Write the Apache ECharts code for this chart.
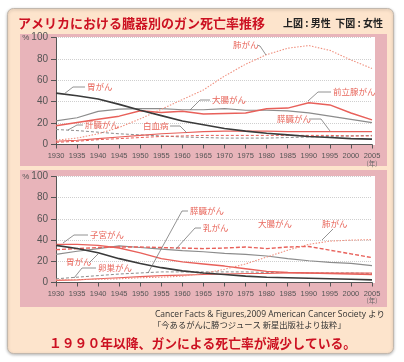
<!DOCTYPE html>
<html><head><meta charset="utf-8">
<script src="https://cdn.jsdelivr.net/npm/echarts@6/dist/echarts.min.js"></script>
<style>html,body{margin:0;padding:0;background:#fff}#c{width:404px;height:362px}</style>
</head><body><div id="c"></div>
<script>
// ---- data (deaths per 100,000) ----
const years = [1930,1935,1940,1945,1950,1955,1960,1965,1970,1975,1980,1985,1990,1995,2000,2005];
const xTicks = [1930,1935,1940,1945,1950,1955,1960,1965,1970,1975,1980,1985,1990,1995,2000,2005];
const yTicks = [0,20,40,60,80,100];
// men (top)
const mStomach   = [48,45.5,42.5,37.5,32,27,22,18.5,15,12.5,10.5,9,7.5,6.5,5.5,5];
const mLung      = [4,6,10,16,24,33,42,51,64,75,84,90,92.5,88,79,71];
const mColorectal= [22,25,31,33,33.5,33.5,32.5,32.5,33.5,32,32,31.5,29.5,26.5,23.5,20.5];
const mProstate  = [17.5,20.5,23.5,26.5,31.5,30,31,28.5,29,29.5,33.5,34,39,37,29.5,23];
const mPancreas  = [3,4,5.5,7,8.5,10,11,12,12.5,12.5,12.5,12,12,12,12,12];
const mLeukemia  = [2,3,4.5,5.5,6.5,7.5,8,8.5,8.5,8.5,8.5,8.5,8.5,8.5,8,8];
const mLiver     = [14,13,11.5,10,9,8,7,6.5,6,6,6,6.5,7,7.5,8,8.5];
// women (bottom)
const fStomach   = [35,32,28,22.5,18,14,11,9,7.5,6,5,4.5,4,3.5,3,2.5];
const fUterine   = [36,36,35,32.5,28,22.5,19.5,17.5,15.5,13,10.5,9.5,9,8.5,8,7.5];
const fColorectal= [26.5,29.5,32,34.5,33,31.5,30,29,27.5,26.5,25,22.5,20.5,19,18,16];
const fBreast    = [31,32,33,33.5,33.5,33,32.5,32,32.5,33.5,32,33.5,34,30.5,27,23.5];
const fLung      = [2.5,2.7,3,3.5,4.5,5,6,8.5,12.5,17.5,24,30.5,36,39,40,40.5];
const fOvary     = [3.5,5,6.5,8,9,10,10,10,10,10,9.5,9.5,9,9,9,8.5];
const fPancreas  = [2,2.5,3.5,4.5,5.5,6.5,7,7.5,8,8.5,8.5,9,9,9,9,9];

const pair = v => years.map((y,i)=>[y,v[i]]);
const C_BLACK='#3a3a3a', C_GRAY='#8c8c8c', C_RED='#e8605a', C_LRED='#f0907f';
function line(name, v, idx, color, width, type){
  return {name, type:'line', xAxisIndex:idx, yAxisIndex:idx, data:pair(v), showSymbol:false,
    symbol:'none', lineStyle:{color, width, type:type||'solid'}, silent:true, z:5};
}
const FONT = '"Noto Sans CJK JP","Noto Sans",sans-serif';
function xAxis(idx){
  return {type:'value', gridIndex:idx, min:1930, max:2005, interval:5,
    axisLine:{show:true, lineStyle:{color:'#555', width:1}},
    axisTick:{show:true, length:4, lineStyle:{color:'#555'}},
    axisLabel:{color:'#555', fontSize:7.5, fontFamily:'"Liberation Sans",sans-serif', margin:7,
      formatter:v=>xTicks.includes(v)?String(v):''},
    splitLine:{show:false}};
}
function yAxis(idx){
  return {type:'value', gridIndex:idx, min:0, max:100, interval:20,
    axisLine:{show:true, lineStyle:{color:'#555', width:1}},
    axisTick:{show:true, length:5, lineStyle:{color:'#555'}},
    axisLabel:{color:'#555', fontSize:10, fontFamily:'"Liberation Sans",sans-serif', margin:8,
      formatter:v=>yTicks.includes(v)?(v===100?'{p|%}'+v:String(v)):'',
      rich:{p:{fontSize:8,color:'#555',padding:[0,2,0,0]}}},
    splitLine:{show:true, lineStyle:{color:'#cfcfcf', type:'dotted', width:1}}};
}
function lbl(x,y,text){return {type:'text', x, y, z:20, style:{text, fill:'#e8675c', font:'8.5px '+FONT, textVerticalAlign:'middle'}};}
function ldr(points){return {type:'polyline', z:19, shape:{points}, style:{stroke:'#777', lineWidth:0.8, fill:null}};}

const chart = echarts.init(document.getElementById('c'), null, {renderer:'canvas'});
chart.setOption({
  animation:false,
  backgroundColor:'#ffffff',
  grid:[{left:56, top:37.5, width:316, height:107},{left:56, top:176.5, width:316, height:106}],
  xAxis:[xAxis(0), xAxis(1)],
  yAxis:[yAxis(0), yAxis(1)],
  series:[
    line('肝臓がん', mLiver, 0, C_GRAY, 1, [3,2]),
    line('白血病', mLeukemia, 0, C_RED, 1, [3,2]),
    line('膵臓がん', mPancreas, 0, C_RED, 1.1),
    line('大腸がん', mColorectal, 0, C_GRAY, 1.2),
    line('前立腺がん', mProstate, 0, C_RED, 1.5),
    line('肺がん', mLung, 0, C_LRED, 1.1, [1.5,1.5]),
    line('胃がん', mStomach, 0, C_BLACK, 1.6),
    line('卵巣がん', fOvary, 1, C_GRAY, 1, [3,2]),
    line('膵臓がん', fPancreas, 1, C_RED, 1.1),
    line('大腸がん', fColorectal, 1, C_GRAY, 1.2),
    line('乳がん', fBreast, 1, C_RED, 1.4, [4,2]),
    line('子宮がん', fUterine, 1, C_RED, 1.4),
    line('肺がん', fLung, 1, C_LRED, 1.1, [1.5,1.5]),
    line('胃がん', fStomach, 1, C_BLACK, 1.6)
  ],
  graphic:[
    {type:'rect', z:-10, shape:{x:7.5,y:8.5,width:386,height:345,r:6}, style:{fill:'#fde4cc', stroke:'#c2b8ae', lineWidth:1, shadowBlur:3, shadowColor:'rgba(0,0,0,0.25)', shadowOffsetY:1}},
    {type:'rect', z:-9, shape:{x:20,y:34,width:367,height:132}, style:{fill:'#e8b4ba'}},
    {type:'rect', z:-9, shape:{x:20,y:170,width:367,height:137}, style:{fill:'#e8b4ba'}},
    {type:'rect', z:-8, shape:{x:56,y:37,width:319,height:108}, style:{fill:'#ffffff'}},
    {type:'rect', z:-8, shape:{x:56,y:176,width:319,height:107}, style:{fill:'#ffffff'}},
    {type:'text', x:18, y:23, z:20, style:{text:'アメリカにおける臓器別のガン死亡率推移', fill:'#cc1122', font:'bold 13px '+FONT, textVerticalAlign:'middle'}},
    {type:'text', x:283, y:23, z:20, style:{text:'上図 : 男性  下図 : 女性', fill:'#222', font:'bold 10px '+FONT, textVerticalAlign:'middle'}},
    {type:'text', x:372, y:164, z:20, style:{text:'(年)', fill:'#666', font:'6.5px '+FONT, textAlign:'center', textVerticalAlign:'middle'}},
    {type:'text', x:372, y:301, z:20, style:{text:'(年)', fill:'#666', font:'6.5px '+FONT, textAlign:'center', textVerticalAlign:'middle'}},
    {type:'text', x:155, y:315, z:20, style:{text:'Cancer Facts & Figures,2009 American Cancer Society より', fill:'#333', font:'8.5px "Open Sans","Noto Sans CJK JP",sans-serif', textVerticalAlign:'middle'}},
    {type:'text', x:153, y:325, z:20, style:{text:'「今あるがんに勝つジュース 新星出版社より抜粋」', fill:'#333', font:'8.3px '+FONT, textVerticalAlign:'middle'}},
    {type:'text', x:49, y:343, z:20, style:{text:'１９９０年以降、ガンによる死亡率が減少している。', fill:'#cc1122', font:'bold 12.8px '+FONT, textVerticalAlign:'middle'}},
    // top annotations
    lbl(87,87,'胃がん'), ldr([[85,87],[73,87],[64,94]]),
    lbl(85,125,'肝臓がん'), ldr([[83,125],[77,125],[68,130]]),
    lbl(143,126,'白血病'), ldr([[170,126],[180,126],[187,133]]),
    lbl(233,45,'肺がん'), ldr([[257,45],[260,46],[266,55]]),
    lbl(212,100,'大腸がん'), ldr([[210,100],[200,100],[190,110]]),
    lbl(333,92,'前立腺がん'), ldr([[331,92],[318,92],[308,101]]),
    lbl(277,119,'膵臓がん'), ldr([[309,119],[321,119],[330,131]]),
    // bottom annotations
    lbl(90,235,'子宮がん'), ldr([[88,235],[74,235],[63,243]]),
    lbl(66,262,'胃がん'), ldr([[89,263],[98,254]]),
    lbl(98,268,'卵巣がん'), ldr([[96,268],[82,268],[74,278]]),
    lbl(190,211,'膵臓がん'), ldr([[188,211],[182,211],[148,273]]),
    lbl(203,228,'乳がん'), ldr([[201,228],[195,228],[176,249]]),
    lbl(258,224,'大腸がん'),
    lbl(322,224,'肺がん'), ldr([[333,229],[322,240]])
  ]
});
</script></body></html>
